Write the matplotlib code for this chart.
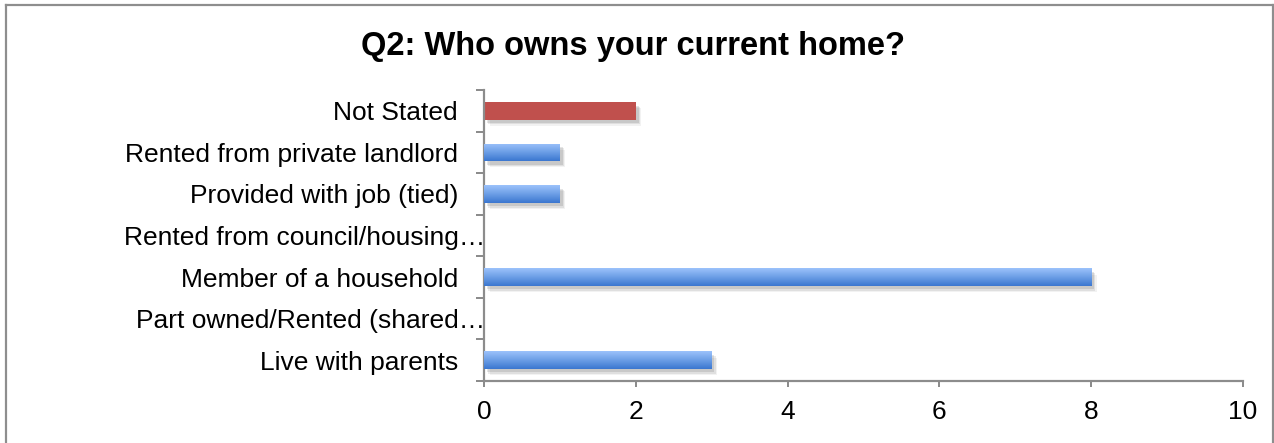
import numpy as np
import matplotlib
matplotlib.use("Agg")
import matplotlib.pyplot as plt
import matplotlib.patheffects as pe
from matplotlib.lines import Line2D
from matplotlib.transforms import ScaledTranslation
from matplotlib.colors import LinearSegmentedColormap

plt.rcParams['font.family'] = ['Liberation Sans', 'DejaVu Sans']

# Survey answers, bottom to top
categories = [
    "Live with parents",
    "Part owned/Rented (shared\u2026",
    "Member of a household",
    "Rented from council/housing\u2026",
    "Provided with job (tied)",
    "Rented from private landlord",
    "Not Stated",
]
counts = [3, 0, 8, 0, 1, 1, 2]
highlight = "Not Stated"
x_ticks = [0, 2, 4, 6, 8, 10]

W, H = 1274, 443
fig = plt.figure(figsize=(W / 100, H / 100), dpi=100)
fig.patch.set_facecolor("white")
px = 72 / 100  # points per pixel

# Plot area in pixel terms
left, right, top, bottom = 484, 1243, 90, 381
ax = fig.add_axes([left / W, 1 - bottom / H, (right - left) / W, (bottom - top) / H])

n = len(categories)
y = np.arange(n)
bar_h = 0.42

blue_cmap = LinearSegmentedColormap.from_list("blue", ["#3b77d0", "#6c9ee6", "#9cc2fb"])
red_col = "#c0504d"

# Soft drop shadow built from a few faint offset copies
shadow = [pe.SimplePatchShadow(offset=(o, -o - 0.5), shadow_rgbFace="#000000", alpha=a)
          for o, a in ((4.0, 0.05), (3.0, 0.08), (2.0, 0.10))] + [pe.Normal()]

bars = ax.barh(y, counts, height=bar_h, zorder=2)
for bar, cat, val in zip(bars, categories, counts):
    bar.set_path_effects(shadow)
    bar.set_linewidth(0)
    if cat == highlight:
        bar.set_facecolor(red_col)
    else:
        bar.set_facecolor("#3b77d0")
        if val > 0:
            yc = bar.get_y()
            grad = np.linspace(0, 1, 64).reshape(-1, 1)
            im = ax.imshow(grad, cmap=blue_cmap, aspect="auto", origin="lower",
                           extent=(0, val, yc, yc + bar_h), zorder=3,
                           interpolation="bilinear")
            im.set_clip_path(bar)

ax.set_xlim(0, 10)
ax.set_ylim(-0.5, n - 0.5)
ax.set_xticks(x_ticks)
ax.set_xticklabels([str(t) for t in x_ticks], fontsize=19)
ax.set_yticks(np.arange(-0.5, n, 1.0))
ax.set_yticklabels([])
ax.set_yticks(y, minor=True)
ax.set_yticklabels(categories, minor=True, fontsize=19)
ax.tick_params(axis="y", which="minor", length=0, pad=26 * px)
ax.tick_params(axis="y", which="major", length=8 * px, width=2 * px, color="#8c8c8c")
ax.tick_params(axis="x", length=6 * px, width=2 * px, color="#8c8c8c", pad=13 * px)

# Truncated labels overflow toward the axis
for lab in ax.get_yticklabels(minor=True):
    if lab.get_text().endswith("\u2026"):
        lab.set_transform(lab.get_transform() + ScaledTranslation(27 / 100, 0, fig.dpi_scale_trans))

for side in ("top", "right"):
    ax.spines[side].set_visible(False)
for side in ("left", "bottom"):
    ax.spines[side].set_color("#8c8c8c")
    ax.spines[side].set_linewidth(2.2 * px)
ax.set_facecolor("none")

fig.text(633 / W, 1 - 46 / H, "Q2: Who owns your current home?", ha="center", va="center",
         fontsize=23.5, fontweight="bold")

# Chart frame (left, top, right edges)
frame_kw = dict(color="#8e8e8e", lw=2.2 * px, transform=fig.transFigure)
fig.add_artist(Line2D([6.5 / W, 6.5 / W], [0, 1 - 4.5 / H], **frame_kw))
fig.add_artist(Line2D([6.5 / W, 1272.5 / W], [1 - 4.5 / H, 1 - 4.5 / H], **frame_kw))
fig.add_artist(Line2D([1272.5 / W, 1272.5 / W], [0, 1 - 4.5 / H], **frame_kw))

fig.savefig("out.png", dpi=100)
